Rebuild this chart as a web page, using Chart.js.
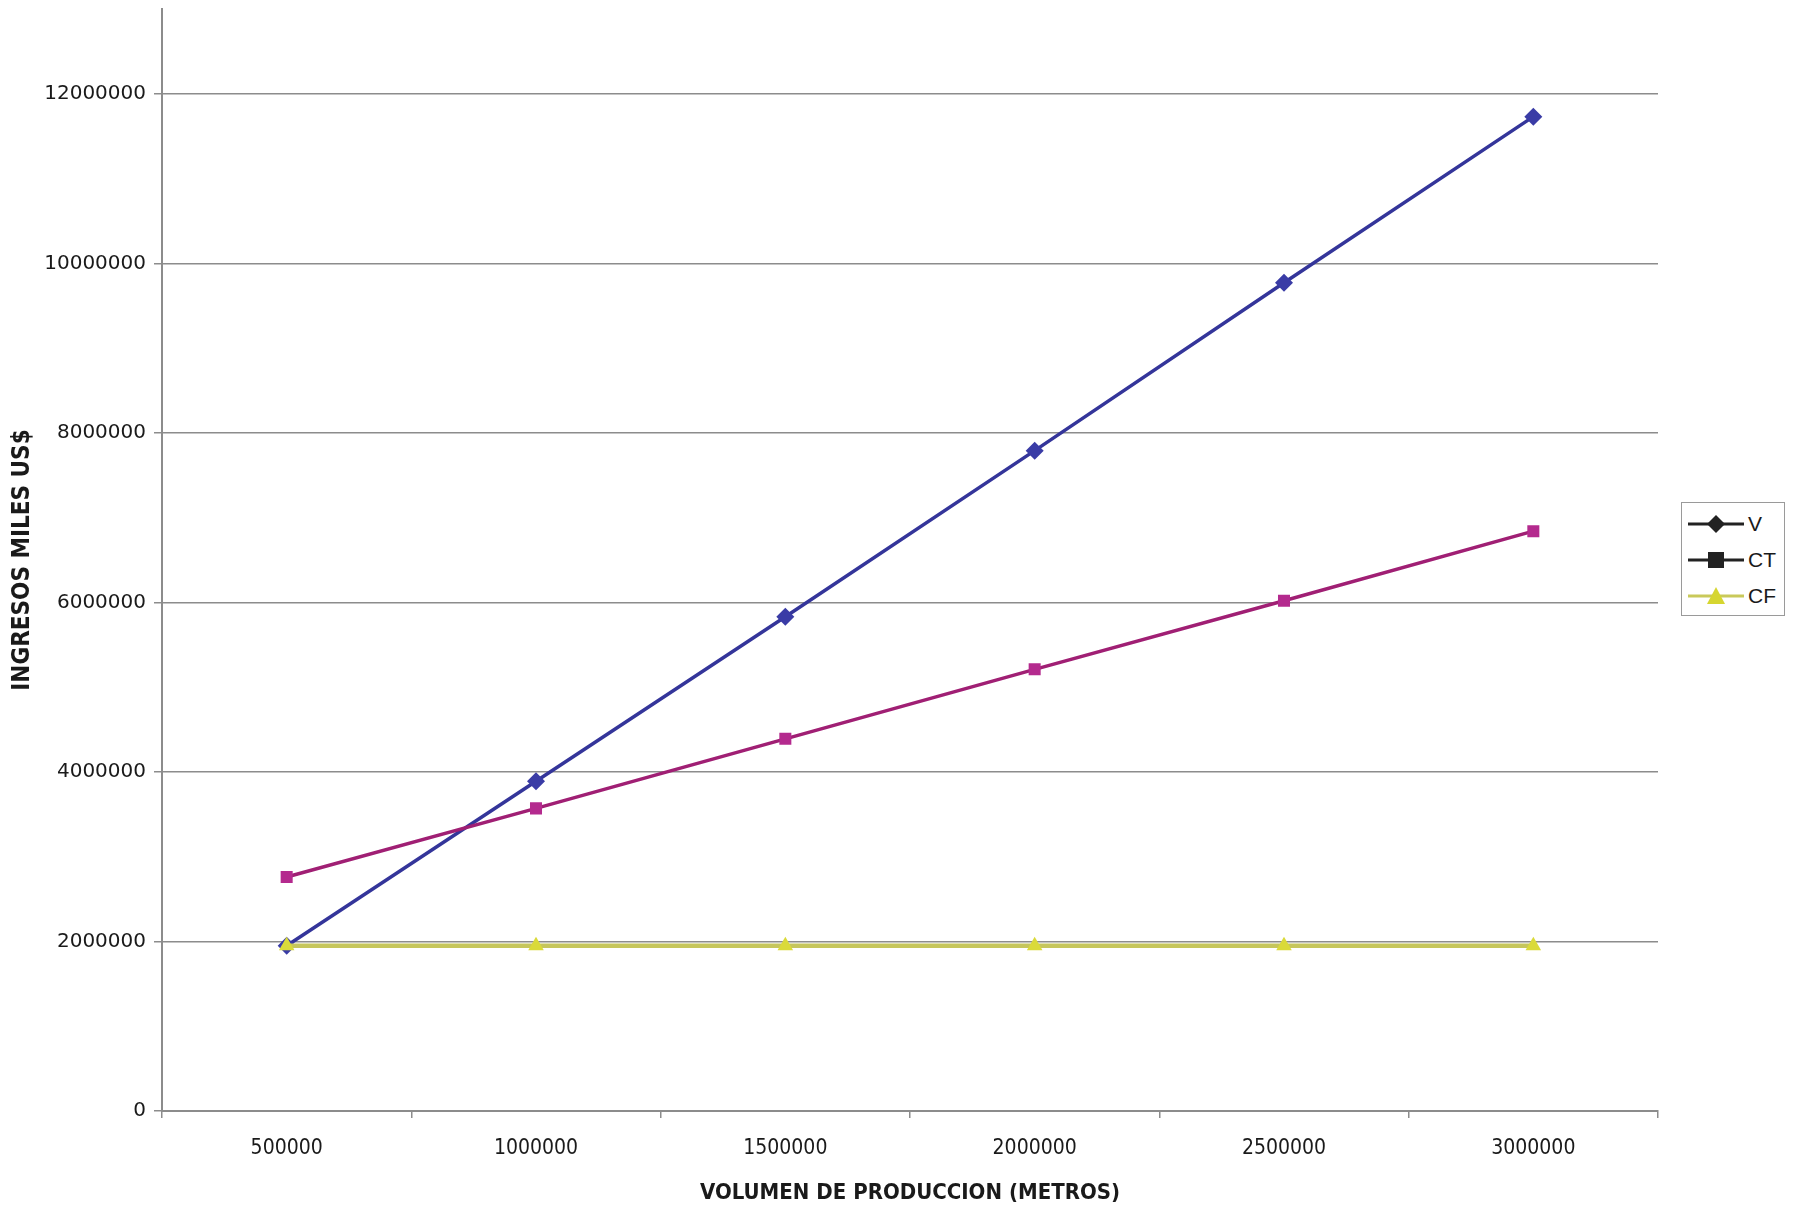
<!DOCTYPE html>
<html>
<head>
<meta charset="utf-8">
<script src="https://cdn.jsdelivr.net/npm/chart.js@4/dist/chart.umd.min.js"></script>
<style>
  html,body{margin:0;padding:0;background:#fff;}
  #wrap{position:relative;width:1798px;height:1206px;}
  #chart{position:absolute;left:0;top:0;}
  .legend{position:absolute;left:1681px;top:502px;width:104px;height:114px;border:1px solid #9a9a9a;background:#fff;box-sizing:border-box;padding-top:3px;}
  .legend .row{display:flex;align-items:center;height:36px;font:21px "Liberation Sans",Arial,sans-serif;color:#1a1a1a;}
  .legend svg{margin-left:6px;margin-right:4px;}
</style>
</head>
<body>
<div id="wrap">
  <canvas id="chart" width="1798" height="1206"></canvas>
  <div class="legend">
    <div class="row"><svg width="56" height="20"><line x1="0" y1="10" x2="56" y2="10" stroke="#222" stroke-width="3"/><polygon points="28,1 37,10 28,19 19,10" fill="#222"/></svg>V</div>
    <div class="row"><svg width="56" height="20"><line x1="0" y1="10" x2="56" y2="10" stroke="#222" stroke-width="3"/><rect x="20" y="2" width="16" height="16" fill="#222"/></svg>CT</div>
    <div class="row"><svg width="56" height="20"><line x1="0" y1="10" x2="56" y2="10" stroke="#c9c95a" stroke-width="3"/><polygon points="28,1 37,18 19,18" fill="#d6d630"/></svg>CF</div>
  </div>
</div>
<script>
'use strict';

// volumen de produccion (metros)
const volumen = ['500000','1000000','1500000','2000000','2500000','3000000'];
// ingresos / costos
const ventas = [1950000, 3890000, 5830000, 7790000, 9770000, 11730000];
const costoTotal = [2760000, 3570000, 4390000, 5210000, 6020000, 6840000];
const costoFijo = [1950000, 1950000, 1950000, 1950000, 1950000, 1950000];
const yTicks = [0, 2000000, 4000000, 6000000, 8000000, 10000000, 12000000];

const GRID = '#8c8c8c';
const narrow = '"Liberation Sans Narrow","DejaVu Sans Condensed","Liberation Sans",Arial,sans-serif';

new Chart(document.getElementById('chart'), {
  type: 'line',
  data: {
    labels: volumen,
    datasets: [
      {label:'V', data:ventas, borderColor:'#34359a', backgroundColor:'#3a3ca6', borderWidth:3.5,
       pointStyle:'rectRot', pointRadius:9, pointBorderWidth:0, order:2},
      {label:'CT', data:costoTotal, borderColor:'#a01f74', backgroundColor:'#b42a8e', borderWidth:3.5,
       pointStyle:'rect', pointRadius:8.5, pointBorderWidth:0, order:1},
      {label:'CF', data:costoFijo, borderColor:'#c6c65c', backgroundColor:'#dada3a', borderWidth:4.5,
       pointStyle:'triangle', pointRadius:9, pointBorderWidth:0, order:0}
    ]
  },
  options: {
    responsive: false,
    animation: false,
    layout: {padding: {top: 2, right: 140, left: 0, bottom: 0}},
    plugins: {legend: {display: false}, tooltip: {enabled: false}},
    scales: {
      x: {
        type: 'category',
        offset: true,
        afterFit: s => { s.height = 95; },
        grid: {offset: true, drawOnChartArea: false, drawTicks: true, tickLength: 7, color: GRID, lineWidth: 1.5},
        border: {color: GRID, width: 2},
        ticks: {color: '#1a1a1a', padding: 18, maxRotation: 0, font: {family: narrow, size: 21}},
        title: {display: true, text: 'VOLUMEN DE PRODUCCION (METROS)', color: '#1a1a1a',
                padding: {top: 0, bottom: 0}, font: {family: narrow, size: 22, weight: 'bold'}}
      },
      y: {
        min: 0, max: 13000000,
        afterFit: s => { s.width = 162; s.paddingTop = 0; s.paddingBottom = 0; },
        afterBuildTicks: s => { s.ticks = yTicks.map(v => ({value: v})); },
        grid: {color: GRID, lineWidth: 1.5, tickLength: 8},
        border: {color: GRID, width: 2},
        ticks: {color: '#1a1a1a', padding: 8, font: {family: '"DejaVu Sans",sans-serif', size: 20},
                callback: v => String(v)},
        title: {display: true, text: 'INGRESOS MILES US$', color: '#1a1a1a',
                padding: {top: 8, bottom: 0}, font: {family: narrow, size: 24, weight: 'bold'}}
      }
    }
  }
});
</script>
</body>
</html>
